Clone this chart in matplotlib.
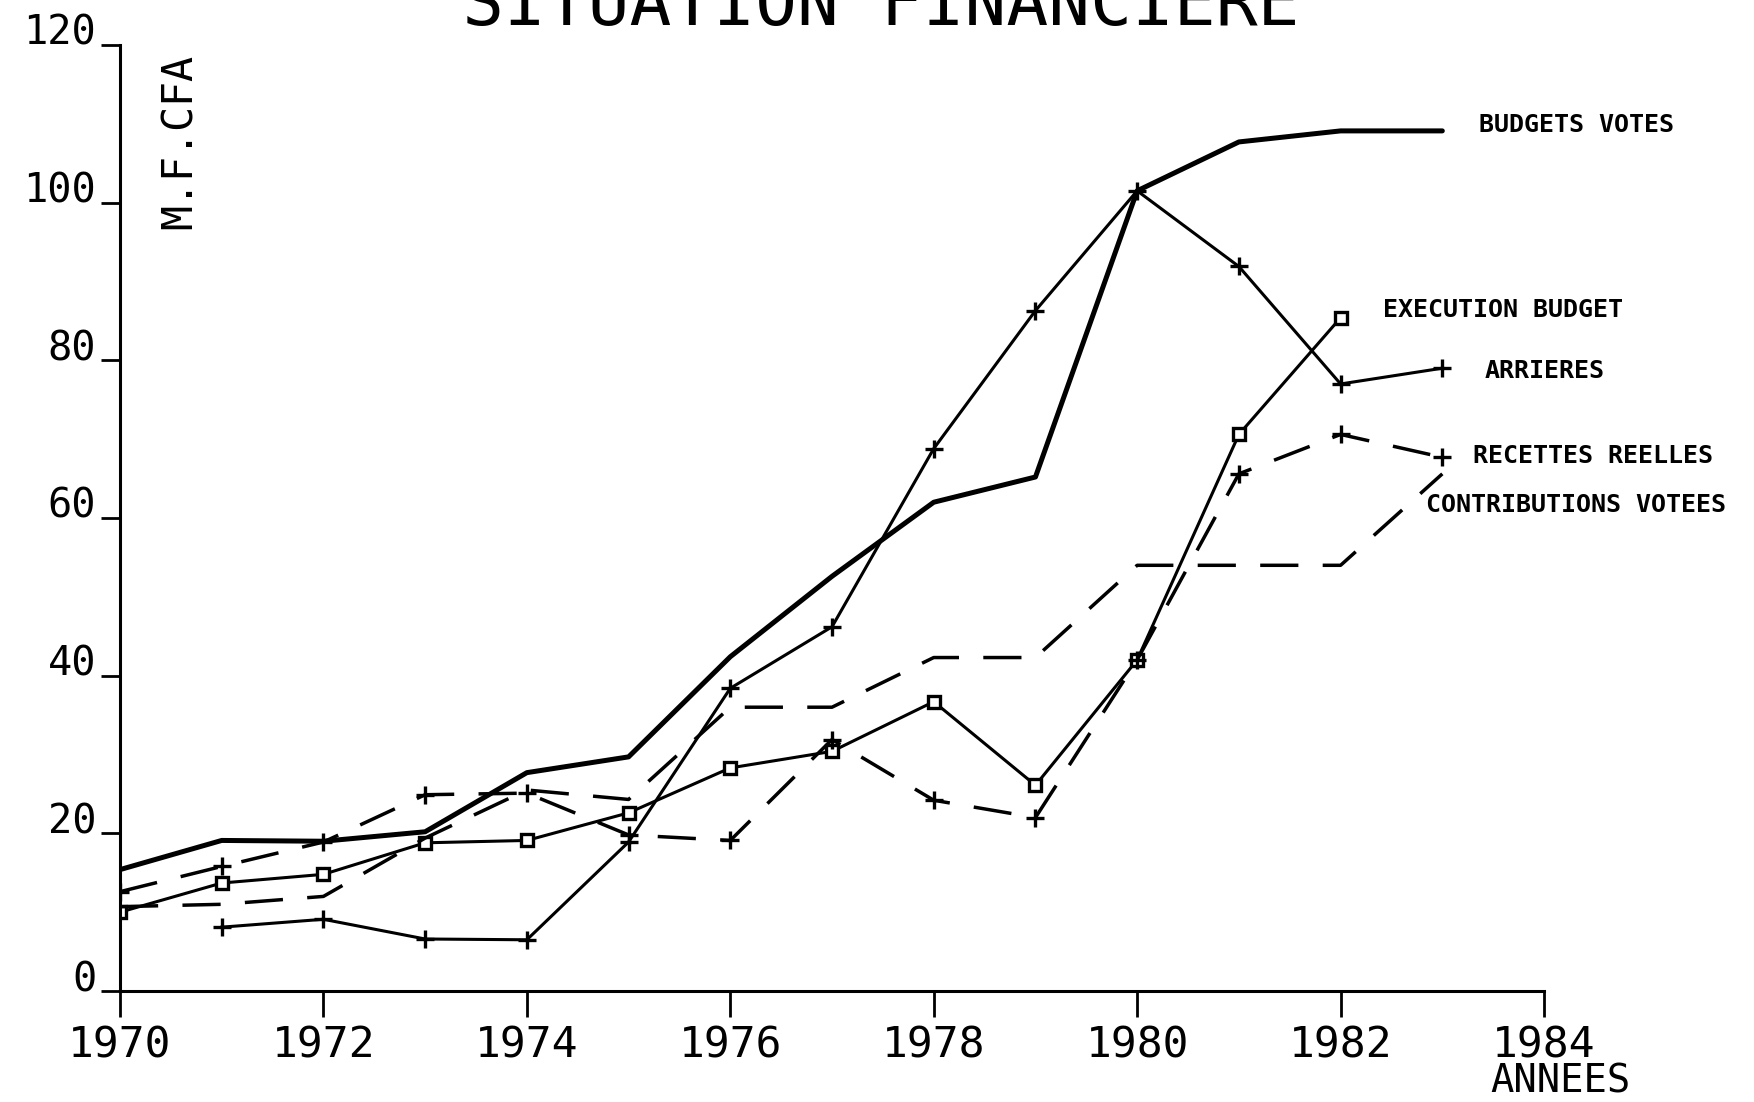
import numpy as np
from matplotlib import pyplot as plt

# values (M.F.CFA)
years = np.arange(1970, 1984)
budgets_votes = [15.4, 19.1, 19.0, 20.2, 27.7, 29.7, 42.4, 52.6, 62.0, 65.2,
                 101.5, 107.7, 109.1, 109.1]
arrieres = [np.nan, 8.1, 9.1, 6.6, 6.5, 18.9, 38.4, 46.2, 68.8, 86.3,
            101.5, 91.9, 77.0, 79.0]
execution_budget = [10.0, 13.7, 14.8, 18.8, 19.1, 22.6, 28.3, 30.4, 36.7, 26.1,
                    42.0, 70.6, 85.4, np.nan]
recettes_reelles = [12.6, 15.8, 18.9, 24.9, 25.1, 19.8, 19.1, 31.9, 24.2, 22.0,
                    42.0, 65.6, 70.6, 67.7]
contributions_votees = [10.7, 11.0, 12.0, 19.4, 25.5, 24.3, 36.0, 36.0, 42.3, 42.3,
                        54.0, 54.0, 54.0, 65.6]

series_labels = ['BUDGETS VOTES', 'EXECUTION BUDGET', 'ARRIERES',
                 'RECETTES REELLES', 'CONTRIBUTIONS VOTEES']
xticks = [1970, 1972, 1974, 1976, 1978, 1980, 1982, 1984]
yticks = [0, 20, 40, 60, 80, 100, 120]

mono = 'DejaVu Sans Mono'
plt.rcParams['font.family'] = mono

fig = plt.figure(figsize=(17.54, 11.02), dpi=100)
ax = fig.add_axes([0.0684, 0.1007, 0.8119, 0.8585])

ax.plot(years, budgets_votes, color='black', lw=3.6, solid_capstyle='round')
ax.plot(years, arrieres, color='black', lw=2.2, marker='+', ms=13, mew=2.4)
ax.plot(years, execution_budget, color='black', lw=2.2, marker='s', ms=9,
        mfc='white', mew=2.4)
l4, = ax.plot(years, recettes_reelles, color='black', lw=2.5, marker='+', ms=13,
              mew=2.4)
l4.set_dashes((11, 7))
l5, = ax.plot(years, contributions_votees, color='black', lw=2.5)
l5.set_dashes((11, 7))

# labels written at the end of each curve
label_pos = [(1983.36, 109.8), (1982.42, 86.4), (1983.42, 78.6),
             (1983.30, 67.9), (1982.84, 61.7)]
for txt, (lx, ly) in zip(series_labels, label_pos):
    ax.text(lx, ly, txt, fontsize=18, fontweight='bold', va='center',
            ha='left', family=mono)

ax.set_xlim(1970, 1984)
ax.set_ylim(0, 120)
ax.set_xticks(xticks)
ax.set_yticks(yticks)
ax.set_xticklabels([str(x) for x in xticks], fontsize=31)
ax.set_yticklabels([str(y) for y in yticks], fontsize=29)
for lab in ax.get_yticklabels():
    lab.set_verticalalignment('baseline')
ax.tick_params(axis='x', direction='out', length=19, width=2, pad=5)
ax.tick_params(axis='y', direction='out', length=14, width=2, pad=3)

for s in ['top', 'right']:
    ax.spines[s].set_visible(False)
for s in ['left', 'bottom']:
    ax.spines[s].set_linewidth(2.2)

fig.text(0.502, 0.977, 'SITUATION FINANCIERE', fontsize=50, ha='center',
         va='baseline')
fig.text(0.1025, 0.872, 'M.F.CFA', fontsize=30, rotation=90, ha='center',
         va='center')
fig.text(0.8895, 0.009, 'ANNEES', fontsize=28, ha='center', va='baseline')

fig.savefig('out.png', dpi=100, facecolor='white')
